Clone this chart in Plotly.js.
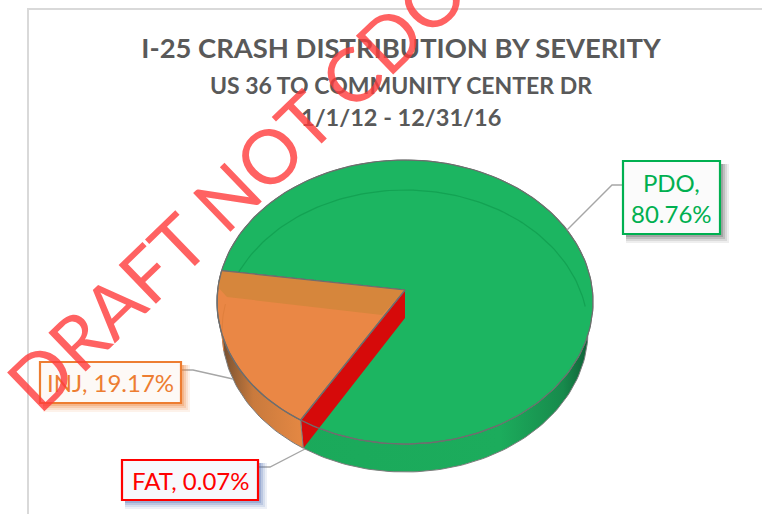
<!DOCTYPE html>
<html><head><meta charset="utf-8">
<script src="https://cdn.plot.ly/plotly-3.0.1.min.js"></script>
<style>html,body{margin:0;padding:0;background:#fff}#c{width:762px;height:514px}</style></head>
<body><div id="c"></div>
<script>
// Data
const categories = ["FAT", "INJ", "PDO"];
const percents = [0.07, 19.17, 80.76];
const labelTexts = ["FAT, 0.07%", "INJ, 19.17%", "PDO,<br>80.76%"];
const sliceColors = ["#d60a0a", "#ea8745", "#1cb561"];
const labelColors = ["#ff0000", "#ed7d31", "#00b050"];
const titleLines = ["I-25 CRASH DISTRIBUTION BY SEVERITY", "US 36 TO COMMUNITY CENTER DR", "1/1/12 - 12/31/16"];
const watermark = "DRAFT NOT CDO";

// 3D pie geometry in the pixel-scaled axes
const startAngle = 213.5, apex = [405, 290], depth = 28;
const topE = {cx: 405, cy: 302, rx: 188, ry: 142};
const botE = {cx: 405, cy: 331, rx: 183, ry: 141};
const rad = d => d * Math.PI / 180;
const pt = (e, a) => [e.cx + e.rx * Math.sin(rad(a)), e.cy - e.ry * Math.cos(rad(a))];
function arc(e, a0, a1) {
  const n = Math.max(2, Math.ceil(Math.abs(a1 - a0) / 1.5)), out = [];
  for (let i = 0; i <= n; i++) out.push(pt(e, a0 + (a1 - a0) * i / n));
  return out;
}
const bounds = [];
percents.reduce((acc, v) => { bounds.push([acc, acc + v * 3.6]); return acc + v * 3.6; }, startAngle);
const [fat, inj, pdo] = bounds;
const lineC = "#6e6e6e";
function poly(pts, o) {
  const closed = pts.concat([pts[0]]);
  return Object.assign({type: "scatter", mode: "lines", x: closed.map(p => p[0]), y: closed.map(p => p[1]),
    fill: "toself", hoverinfo: "skip", showlegend: false}, o);
}
function stroke(pts, color, width) {
  return {type: "scatter", mode: "lines", x: pts.map(p => p[0]), y: pts.map(p => p[1]),
    line: {color, width}, hoverinfo: "skip", showlegend: false};
}
const wall = (s) => arc(topE, s[0], s[1]).concat(arc(botE, s[1], s[0]));
const gradient = (stops) => ({type: "horizontal", colorscale: stops});
const wallLine = {color: "#7c7c7c", width: 1};

const data = [
  // PDO wall and top
  poly(wall(pdo), {name: categories[2], fillcolor: sliceColors[2], line: wallLine,
    fillgradient: gradient([[0, "#1aa85a"], [0.75, "#1cac5c"], [0.92, "#178a4c"], [1, "#0c5a32"]])}),
  poly([apex].concat(arc(topE, pdo[0], pdo[1])), {name: categories[2], fillcolor: sliceColors[2], line: {color: lineC, width: 1.2}}),
  stroke(arc(botE, 288, 440), "#13a253", 1.2),
  // FAT cut face
  poly([apex, [apex[0], apex[1] + depth], pt(botE, fat[1]), pt(topE, fat[0])], {name: categories[0], fillcolor: sliceColors[0], line: {color: sliceColors[0], width: 0}}),
  // INJ wall and top
  poly(wall(inj), {name: categories[1], fillcolor: sliceColors[1], line: wallLine,
    fillgradient: gradient([[0, "#5e4330"], [0.16, "#8d5c34"], [0.42, "#c97a3d"], [1, "#e58843"]])}),
  poly([apex].concat(arc(topE, inj[0], inj[1])), {name: categories[1], fillcolor: sliceColors[1], line: {color: lineC, width: 1.2}}),
  poly(arc(topE, inj[1], 276).concat([[227, 297], [382, 315], apex]), {fillcolor: "#d6863c", line: {width: 0, color: "#d6863c"}}),
  stroke(arc(botE, 262, 281), "#e07f3c", 1),
  stroke([apex].concat([pt(topE, inj[1])]), lineC, 1.2),
  stroke([apex, pt(topE, inj[0])], lineC, 1.2),
  stroke(arc(topE, inj[1], inj[0]), lineC, 1.2),
  stroke(arc(topE, 150, inj[0]), lineC, 1.2)
];

function box(x0, y0, x1, y1, border, fill, shadow) {
  const s = [];
  [[9, .10], [7, .14], [5, .2], [3, .28]].forEach(([o, a]) => s.push({type: "rect", xref: "x", yref: "y",
    x0: x0 + 3, y0: y0 + 3, x1: x1 + o, y1: y1 + o, line: {width: 0}, fillcolor: `rgba(${shadow},${a})`, layer: "above"}));
  s.push({type: "rect", xref: "x", yref: "y", x0, y0, x1, y1, line: {color: border, width: 2.2}, fillcolor: fill, layer: "above"});
  return s;
}
function leader(pts) {
  return {type: "path", xref: "x", yref: "y", path: "M" + pts.map(p => p.join(" ")).join(" L"),
    line: {color: "#a6a6a6", width: 1.4}, layer: "above"};
}
const shapes = [
  {type: "path", xref: "x", yref: "y", path: "M28 514 L28 9 L762 9", line: {color: "#d9d9d9", width: 2}, layer: "below"},
  leader([[567, 230], [612, 185], [623, 185]]),
  leader([[233, 379], [193, 370], [181, 370]]),
  leader([[305, 449], [270, 467], [258, 467]])
].concat(
  box(623, 161, 720, 234, labelColors[2], "#fbfbfb", "90,90,90"),
  box(40, 362, 181, 403, labelColors[1], "#fdf9f6", "237,125,49"),
  box(122, 460, 258, 500, labelColors[0], "#f7f8fc", "80,110,180")
);

const font = "Lato, 'Open Sans', sans-serif";
function note(text, x, y, size, color, bold) {
  return {text: bold ? "<b>" + text + "</b>" : text, x, y, xref: "x", yref: "y", showarrow: false,
    xanchor: "center", yanchor: "middle", align: "center", font: {family: font, size, color}};
}
const annotations = [
  note(titleLines[1], 401, 85, 23, "#595959", true),
  note(titleLines[2], 401, 117, 23.5, "#595959", true),
  note(labelTexts[2], 671.5, 197.5, 24, labelColors[2]),
  note(labelTexts[1], 110.5, 382.5, 24, labelColors[1]),
  note(labelTexts[0], 190, 480, 24, labelColors[0]),
  {text: watermark, x: 236, y: 186, xref: "x", yref: "y", showarrow: false, textangle: -44,
   xanchor: "center", yanchor: "middle", opacity: 0.8,
   font: {family: "Lato, sans-serif", size: 75, weight: 400, color: "#ff3b3b"}}
];

Plotly.newPlot("c", data, {
  width: 762, height: 514, margin: {l: 0, r: 0, t: 0, b: 0}, paper_bgcolor: "#fff", plot_bgcolor: "#fff",
  showlegend: false,
  title: {text: "<b>" + titleLines[0] + "</b>", x: 401 / 762, xanchor: "center", y: 1 - 48 / 514, yanchor: "middle",
    font: {family: font, size: 27.4, color: "#595959"}},
  xaxis: {range: [0, 762], visible: false, fixedrange: true},
  yaxis: {range: [514, 0], visible: false, fixedrange: true},
  shapes, annotations
}, {displayModeBar: false, staticPlot: true});
</script></body></html>
